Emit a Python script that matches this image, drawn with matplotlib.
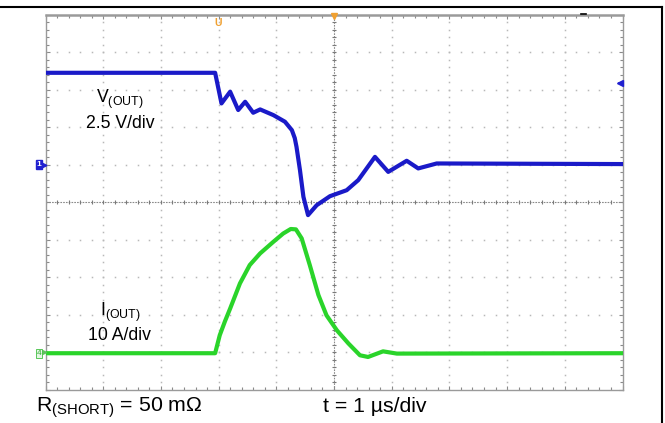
import numpy as np
import matplotlib
matplotlib.use("Agg")
import matplotlib.pyplot as plt
from matplotlib.lines import Line2D
from matplotlib.ticker import MultipleLocator

plt.rcParams['font.family'] = ['Liberation Sans', 'DejaVu Sans']
plt.rcParams['mathtext.fontset'] = 'custom'
plt.rcParams['mathtext.rm'] = 'Liberation Sans'
plt.rcParams['mathtext.it'] = 'Liberation Sans'

t_v = [-5.0, -2.06, -1.95, -1.80, -1.66, -1.54, -1.40, -1.28, -1.05, -0.85,
       -0.73, -0.68, -0.65, -0.59, -0.53, -0.45, -0.30, -0.07, 0.22, 0.42,
       0.71, 0.94, 1.26, 1.46, 1.78, 5.0]
v_out = [6.13, 6.13, 4.09, 4.87, 3.65, 4.20, 3.47, 3.69, 3.31, 2.87,
         2.31, 1.78, 1.20, -0.35, -2.13, -3.35, -2.69, -2.09, -1.69, -1.02,
         0.53, -0.47, 0.27, -0.24, 0.09, 0.05]

# I(OUT) (tempo in us, corrente in A)
t_i = [-5.0, -2.06, -1.98, -1.89, -1.80, -1.63, -1.46, -1.28, -1.05, -0.88, -0.75,
       -0.66, -0.56, -0.42, -0.27, -0.13, 0.05, 0.25, 0.45, 0.59, 0.85, 1.09, 5.0]
i_out = [-0.2, -0.2, 4.6, 8.3, 11.7, 18.4, 23.3, 26.4, 29.5, 31.7, 32.9,
         32.8, 30.4, 23.3, 15.3, 9.9, 5.9, 2.4, -0.75, -1.2, 0.3, -0.3, -0.2]

v_div = 2.5   # V/div
i_div = 10.0  # A/div
off_v = 1.0   # posizione canale 1 (div)
off_i = -4.0  # posizione canale 4 (div)

W, H = 665, 423
def px(x, y):
    return x / W, 1 - y / H

fig = plt.figure(figsize=(6.65, 4.23), dpi=100)
x0, y0 = px(45.5, 390)
x1, y1 = px(622.5, 14.7)
ax = fig.add_axes([x0, y0, x1 - x0, y1 - y0])
ax.set_xlim(-5, 5)
ax.set_ylim(-5, 5)

# griglia puntinata
sub = np.arange(-5, 5.01, 0.2)
for k in range(-4, 5):
    if k == 0:
        continue
    ax.plot(sub, np.full(len(sub), k), ls='none', marker='s', ms=1.1,
            color='#b8b8b8', mew=0)
    ax.plot(np.full(len(sub), k), sub, ls='none', marker='s', ms=1.1,
            color='#b8b8b8', mew=0)

# assi centrali con tacche
ax.axhline(0, color='#8a8a8a', lw=0.8, ls=(0, (1.5, 1.0)))
ax.axvline(0, color='#8a8a8a', lw=0.8, ls=(0, (1.5, 1.0)))
ax.plot(sub, np.zeros(len(sub)), ls='none', marker='|', ms=3.5, color='#7a7a7a', mew=0.8)
ax.plot(np.zeros(len(sub)), sub, ls='none', marker='_', ms=3.5, color='#7a7a7a', mew=0.8)

for s in ax.spines.values():
    s.set_color('#9a9a9a')
    s.set_linewidth(1.0)
ax.spines['top'].set_linewidth(1.8)
ax.xaxis.set_major_locator(MultipleLocator(1))
ax.yaxis.set_major_locator(MultipleLocator(1))
ax.xaxis.set_minor_locator(MultipleLocator(0.2))
ax.yaxis.set_minor_locator(MultipleLocator(0.2))
ax.tick_params(which='both', direction='in', top=True, right=True,
               labelbottom=False, labelleft=False, color='#8a8a8a', width=0.8)
ax.tick_params(which='major', length=3)
ax.tick_params(which='minor', length=2.5)

# tracce
ax.plot(t_v, np.array(v_out) / v_div + off_v, color='#1a1ac8', lw=3.0,
        solid_joinstyle='round', zorder=5)
ax.plot(t_i, np.array(i_out) / i_div + off_i, color='#2ad42a', lw=3.0,
        solid_joinstyle='round', zorder=5)

# indicatori dell'oscilloscopio
ax.plot([0], [4.97], marker='v', ms=4.5, color='#f0a030', clip_on=False, zorder=6)
fig.text(*px(218, 23), 'U', color='#f0a030', fontsize=7.5, fontweight='bold',
         ha='center', va='center')
fig.text(*px(39, 165), '1', color='white', fontsize=6, fontweight='bold',
         ha='center', va='center',
         bbox=dict(boxstyle='square,pad=0.12', fc='#2020d0', ec='#2020d0'))
ax.plot([-5.02], [1.0], marker='>', ms=3.5, color='#2020d0', clip_on=False, zorder=6)
fig.text(*px(39, 353), '4', color='#30b030', fontsize=6,
         ha='center', va='center',
         bbox=dict(boxstyle='square,pad=0.12', fc='#e6f6e6', ec='#40c040', lw=0.6))
ax.plot([-5.02], [-4.0], marker='>', ms=3, color='#60c060', clip_on=False, zorder=6)
ax.plot([4.95], [3.18], marker='<', ms=4, color='#2020d0', clip_on=False, zorder=6)
fig.add_artist(Line2D([619 / W, 623 / W], [1 - 83 / H] * 2, color='#2020d0', lw=1.2))
fig.add_artist(Line2D([581 / W, 586 / W], [1 - 14 / H] * 2, color='black', lw=1.2))

# testi
fig.text(*px(120, 103), r'V$_{\mathrm{(OUT)}}$', fontsize=12.7, ha='center', va='baseline')
fig.text(*px(120.5, 128), '2.5 V/div', fontsize=12.7, ha='center', va='baseline')
fig.text(*px(120, 316), r'I$_{\mathrm{(OUT)}}$', fontsize=12.7, ha='center', va='baseline')
fig.text(*px(120, 339.5), '10 A/div', fontsize=12.7, ha='center', va='baseline')
fig.text(*px(36, 412), r'R$_{\mathrm{(SHORT)}}$ = 50 m$\Omega$', fontsize=15.3,
         ha='left', va='baseline')
fig.text(*px(323, 412), 't = 1 \u00b5s/div', fontsize=15.3, ha='left', va='baseline')

# cornice
fig.add_artist(Line2D([0, 662 / W], [1 - 7 / H] * 2, color='black', lw=1.5))
fig.add_artist(Line2D([662 / W] * 2, [1 - 7 / H, 0], color='black', lw=1.5))

fig.savefig('out.png', dpi=100)
